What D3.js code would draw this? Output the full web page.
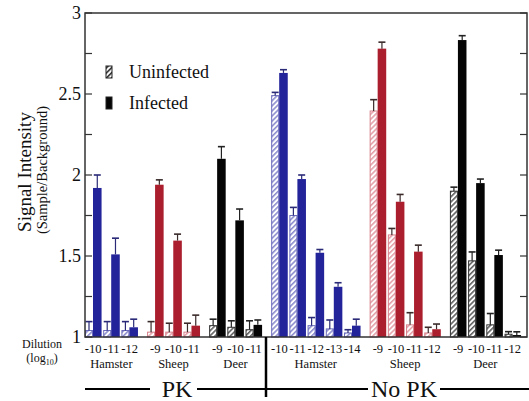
<!DOCTYPE html>
<html lang="en">
<head>
    <meta charset="UTF-8">
    <title>Signal intensity by dilution</title>
    <script src="https://d3js.org/d3.v7.min.js"></script>
    <style>
        body { margin: 0; background: #fff; }
        text { font-family: "Liberation Serif", "Times New Roman", serif; fill: #111; }
    </style>
</head>
<body>
    <script>
        //Categories
        var groupSpecies = ["Hamster", "Sheep", "Deer", "Hamster", "Sheep", "Deer"];
        var groupTreatment = ["PK", "PK", "PK", "No PK", "No PK", "No PK"];
        var groupDilutions = [
            [-10, -11, -12],
            [-9, -10, -11],
            [-9, -10, -11],
            [-10, -11, -12, -13, -14],
            [-9, -10, -11, -12],
            [-9, -10, -11, -12]
        ];

        //Series values (mean and upper error)
        var uninfectedMean = [
            [1.04, 1.04, 1.04],
            [1.03, 1.03, 1.03],
            [1.07, 1.06, 1.045],
            [2.49, 1.75, 1.07, 1.05, 1.025],
            [2.395, 1.63, 1.075, 1.025],
            [1.9, 1.47, 1.075, 1.017]
        ];
        var uninfectedErr = [
            [0.055, 0.055, 0.055],
            [0.065, 0.055, 0.055],
            [0.04, 0.04, 0.055],
            [0.02, 0.05, 0.05, 0.055, 0.02],
            [0.07, 0.04, 0.075, 0.035],
            [0.025, 0.055, 0.07, 0.016]
        ];
        var infectedMean = [
            [1.92, 1.51, 1.06],
            [1.94, 1.595, 1.07],
            [2.1, 1.72, 1.075],
            [2.63, 1.975, 1.52, 1.31, 1.07],
            [2.78, 1.835, 1.527, 1.048],
            [2.833, 1.95, 1.506, 1.012]
        ];
        var infectedErr = [
            [0.08, 0.1, 0.05],
            [0.03, 0.04, 0.065],
            [0.075, 0.07, 0.03],
            [0.02, 0.025, 0.02, 0.025, 0.04],
            [0.04, 0.045, 0.04, 0.032],
            [0.027, 0.025, 0.03, 0.02]
        ];

        //Tick labels
        var yTicks = [1, 1.5, 2, 2.5, 3];
        var yMinorTicks = [1.25, 1.75, 2.25, 2.75];

        //Styles per species
        var solidColor = { Hamster: "#23239a", Sheep: "#ab1e2d", Deer: "#050505" };
        var stripeColor = { Hamster: "#8585cc", Sheep: "#e39aa3", Deer: "#555555" };
        var edgeColor = { Hamster: "#6a6abb", Sheep: "#d7808b", Deer: "#333333" };
        var whiskerColor = { Hamster: "#2a2a78", Sheep: "#3a2a2a", Deer: "#222222" };

        //SVG dimensions (plot frame edges)
        var w = 529;
        var h = 401;
        var plotL = 85, plotR = 527, plotT = 13, plotB = 337;
        var groupGap = 0.41;

        var svg = d3.select("body")
            .append("svg")
            .attr("width", w)
            .attr("height", h);

        //Hatch patterns
        var defs = svg.append("defs");
        ["Hamster", "Sheep", "Deer", "Legend"].forEach(function(sp) {
            var col = sp === "Legend" ? "#222" : stripeColor[sp];
            var p = defs.append("pattern")
                .attr("id", "hatch-" + sp)
                .attr("patternUnits", "userSpaceOnUse")
                .attr("width", 3.6)
                .attr("height", 3.6)
                .attr("patternTransform", "rotate(45)");
            p.append("rect").attr("width", 3.6).attr("height", 3.6).attr("fill", "#fff");
            p.append("line")
                .attr("x1", 0.8).attr("y1", 0).attr("x2", 0.8).attr("y2", 3.6)
                .attr("stroke", col).attr("stroke-width", 1.5);
        });

        //Flatten pairs with a slot position
        var pairs = [];
        var k = 0;
        groupDilutions.forEach(function(dils, g) {
            dils.forEach(function(d, i) {
                pairs.push({
                    group: g,
                    species: groupSpecies[g],
                    dilution: d,
                    slot: k + g * groupGap,
                    uMean: uninfectedMean[g][i], uErr: uninfectedErr[g][i],
                    iMean: infectedMean[g][i], iErr: infectedErr[g][i]
                });
                k++;
            });
        });
        var nSlots = k + (groupDilutions.length - 1) * groupGap;

        var xScale = d3.scaleLinear()
            .domain([0, nSlots])
            .range([plotL, plotL + nSlots * 18.2]);

        var yScale = d3.scaleLinear()
            .domain([1, 3])
            .range([plotB, plotT]);

        var hatchW = 0.44, solidW = 0.47;

        //Uninfected (hatched) bars
        svg.selectAll("rect.unif")
            .data(pairs)
            .enter()
            .append("rect")
            .attr("class", "unif")
            .attr("x", function(d) { return xScale(d.slot) + 0.5; })
            .attr("y", function(d) { return yScale(d.uMean); })
            .attr("width", function(d) { return xScale(d.slot + hatchW) - xScale(d.slot) - 1; })
            .attr("height", function(d) { return yScale(1) - yScale(d.uMean); })
            .attr("fill", function(d) { return "url(#hatch-" + d.species + ")"; })
            .attr("stroke", function(d) { return edgeColor[d.species]; })
            .attr("stroke-width", 1);

        //Infected (solid) bars
        svg.selectAll("rect.inf")
            .data(pairs)
            .enter()
            .append("rect")
            .attr("class", "inf")
            .attr("x", function(d) { return xScale(d.slot + hatchW); })
            .attr("y", function(d) { return yScale(d.iMean); })
            .attr("width", function(d) { return xScale(d.slot + hatchW + solidW) - xScale(d.slot + hatchW); })
            .attr("height", function(d) { return yScale(1) - yScale(d.iMean); })
            .attr("fill", function(d) { return solidColor[d.species]; });

        //Error bars (upper only)
        function whiskers(cls, cx, mean, err) {
            var g = svg.selectAll("g." + cls)
                .data(pairs)
                .enter()
                .append("g")
                .attr("class", cls)
                .attr("stroke", function(d) { return whiskerColor[d.species]; })
                .attr("stroke-width", 1.2);
            g.append("line")
                .attr("x1", function(d) { return xScale(cx(d)); })
                .attr("x2", function(d) { return xScale(cx(d)); })
                .attr("y1", function(d) { return yScale(mean(d)); })
                .attr("y2", function(d) { return yScale(mean(d) + err(d)); });
            g.append("line")
                .attr("x1", function(d) { return xScale(cx(d)) - 3.5; })
                .attr("x2", function(d) { return xScale(cx(d)) + 3.5; })
                .attr("y1", function(d) { return yScale(mean(d) + err(d)); })
                .attr("y2", function(d) { return yScale(mean(d) + err(d)); })
                .attr("stroke-width", 1.6);
        }
        whiskers("uerr", function(d) { return d.slot + hatchW / 2; },
            function(d) { return d.uMean; }, function(d) { return d.uErr; });
        whiskers("ierr", function(d) { return d.slot + hatchW + solidW / 2; },
            function(d) { return d.iMean; }, function(d) { return d.iErr; });

        //Frame
        svg.append("rect")
            .attr("x", plotL).attr("y", plotT)
            .attr("width", plotR - plotL).attr("height", plotB - plotT)
            .attr("fill", "none").attr("stroke", "#333").attr("stroke-width", 1.5);

        //Inside ticks on left and right
        var tickData = yTicks.concat(yMinorTicks);
        [plotL, plotR].forEach(function(x0, side) {
            svg.selectAll(null)
                .data(tickData)
                .enter()
                .append("line")
                .attr("x1", x0)
                .attr("x2", side === 0 ? x0 + 7 : x0 - 7)
                .attr("y1", function(d) { return yScale(d); })
                .attr("y2", function(d) { return yScale(d); })
                .attr("stroke", "#333").attr("stroke-width", 1.2);
        });

        //Y tick labels
        svg.selectAll("text.ytick")
            .data(yTicks)
            .enter()
            .append("text")
            .attr("class", "ytick")
            .attr("x", plotL - 4)
            .attr("y", function(d) { return yScale(d) + 6; })
            .attr("text-anchor", "end")
            .style("font-size", "18px")
            .text(function(d) { return d; });

        //Y axis title
        svg.append("text")
            .attr("transform", "translate(31,172) rotate(-90)")
            .attr("text-anchor", "middle")
            .style("font-size", "19px")
            .text("Signal Intensity");
        svg.append("text")
            .attr("transform", "translate(47,170) rotate(-90)")
            .attr("text-anchor", "middle")
            .style("font-size", "14.5px")
            .text("(Sample/Background)");

        //Legend
        var legend = [
            { label: "Uninfected", fill: "url(#hatch-Legend)" },
            { label: "Infected", fill: "#050505" }
        ];
        svg.selectAll("rect.leg")
            .data(legend)
            .enter()
            .append("rect")
            .attr("class", "leg")
            .attr("x", 106)
            .attr("y", function(d, i) { return 66 + i * 31; })
            .attr("width", 6).attr("height", 12)
            .attr("fill", function(d) { return d.fill; })
            .attr("stroke", "#222").attr("stroke-width", 1);
        svg.selectAll("text.leg")
            .data(legend)
            .enter()
            .append("text")
            .attr("class", "leg")
            .attr("x", 129)
            .attr("y", function(d, i) { return 78 + i * 31; })
            .style("font-size", "18px")
            .text(function(d) { return d.label; });

        //Dilution labels
        svg.selectAll("text.dil")
            .data(pairs)
            .enter()
            .append("text")
            .attr("class", "dil")
            .attr("x", function(d) { return xScale(d.slot + 0.45); })
            .attr("y", 353)
            .attr("text-anchor", "middle")
            .style("font-size", "12.5px")
            .text(function(d) { return d.dilution; });

        //Species labels
        svg.selectAll("text.species")
            .data(groupSpecies)
            .enter()
            .append("text")
            .attr("class", "species")
            .attr("x", function(d, g) {
                var ps = pairs.filter(function(p) { return p.group === g; });
                return xScale((ps[0].slot + ps[ps.length - 1].slot) / 2 + 0.45);
            })
            .attr("y", 367.5)
            .attr("text-anchor", "middle")
            .style("font-size", "12.5px")
            .text(function(d) { return d; });

        //Dilution caption
        svg.append("text").attr("x", 42).attr("y", 348)
            .attr("text-anchor", "middle").style("font-size", "12px").text("Dilution");
        var lg = svg.append("text").attr("x", 42).attr("y", 362)
            .attr("text-anchor", "middle").style("font-size", "12px");
        lg.append("tspan").text("(log");
        lg.append("tspan").attr("dy", 3).style("font-size", "8px").text("10");
        lg.append("tspan").attr("dy", -3).text(")");

        //Treatment brackets
        var sepX = 266;
        svg.append("line")
            .attr("x1", sepX).attr("x2", sepX).attr("y1", plotB).attr("y2", 397)
            .attr("stroke", "#000").attr("stroke-width", 2.5);
        var treatments = [
            { label: "PK", cx: 177, lines: [[85, 150], [197, sepX]] },
            { label: "No PK", cx: 404, lines: [[sepX, 368], [440, 529]] }
        ];
        treatments.forEach(function(t) {
            t.lines.forEach(function(l) {
                svg.append("line")
                    .attr("x1", l[0]).attr("x2", l[1]).attr("y1", 389).attr("y2", 389)
                    .attr("stroke", "#000").attr("stroke-width", 2);
            });
            svg.append("text")
                .attr("x", t.cx).attr("y", 397)
                .attr("text-anchor", "middle")
                .style("font-size", "24px")
                .text(t.label);
        });
    </script>
</body>
</html>
